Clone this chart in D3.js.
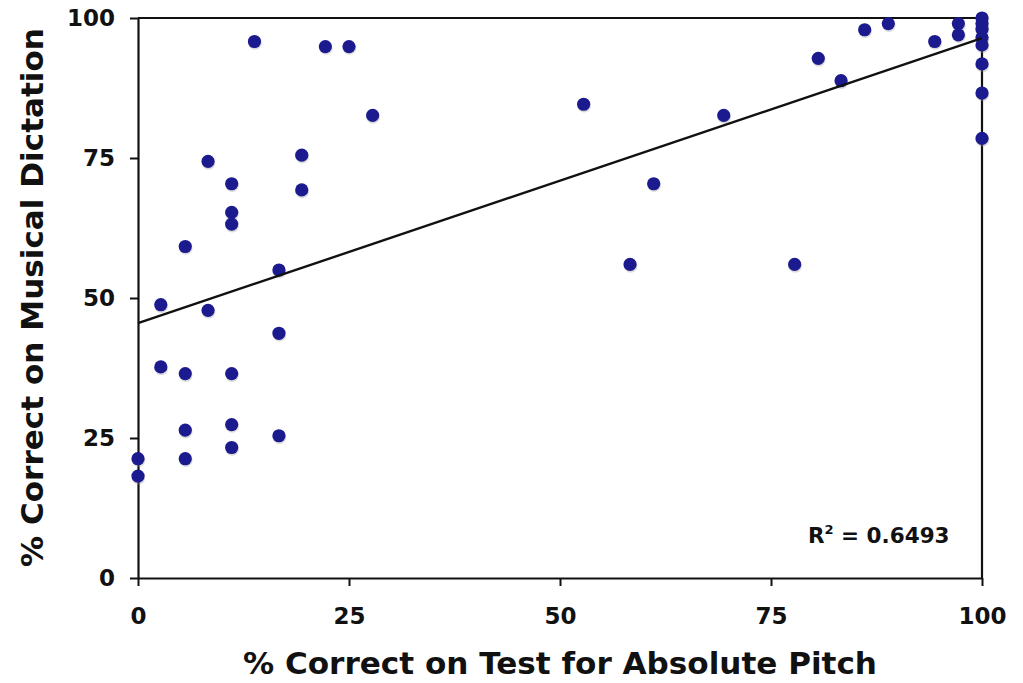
<!DOCTYPE html>
<html>
<head>
<meta charset="utf-8">
<script src="https://cdn.jsdelivr.net/npm/d3@7"></script>
<style>
  html, body { margin: 0; padding: 0; background: #fff; }
  svg { display: block; }
  text { font-family: "DejaVu Sans", Verdana, sans-serif; font-weight: bold; fill: #111; }
</style>
</head>
<body>
<svg id="chart" width="1023" height="683"></svg>
<script>
// ---- data ----
const xValues = [0, 0, 2.7, 2.7, 5.6, 5.6, 5.6, 5.6, 8.3, 8.3,
  11.1, 11.1, 11.1, 11.1, 11.1, 11.1, 13.8, 16.7, 16.7, 16.7,
  19.4, 19.4, 22.2, 25.0, 27.8, 52.8, 58.3, 61.1, 69.4, 77.8,
  80.6, 83.3, 86.1, 88.9, 94.4, 97.2, 97.2,
  100, 100, 100, 100, 100, 100, 100, 100];
const yValues = [21.3, 18.2, 48.8, 37.7, 59.2, 36.5, 26.4, 21.3, 74.4, 47.8,
  70.4, 65.3, 63.2, 36.5, 27.4, 23.3, 95.8, 55.0, 43.7, 25.4,
  75.5, 69.3, 94.9, 94.9, 82.6, 84.6, 56.0, 70.4, 82.6, 56.0,
  92.8, 88.8, 97.9, 99.0, 95.8, 99.0, 97.0,
  100, 99, 98, 96.5, 95.2, 91.8, 86.6, 78.5];
const tickValues = [0, 25, 50, 75, 100];
const trendIntercept = 45.5;
const trendSlope = 0.509;
const rSquaredLabel = "0.6493";
const xTitle = "% Correct on Test for Absolute Pitch";
const yTitle = "% Correct on Musical Dictation";

// ---- layout ----
const svg = d3.select("#chart");
const mLeft = 138, mRight = 982, mTop = 18, mBottom = 578;
const x = d3.scaleLinear().domain([0, 100]).range([mLeft, mRight]);
const y = d3.scaleLinear().domain([0, 100]).range([mBottom, mTop]);

// frame (top + right)
svg.append("path")
  .attr("d", `M${x(0)},${y(100)}H${x(100)}V${y(0)}`)
  .attr("fill", "none").attr("stroke", "#111").attr("stroke-width", 2.2);

// axes
const yAxis = d3.axisLeft(y).tickValues(tickValues).tickSize(8).tickSizeOuter(0).tickPadding(15);
const xAxis = d3.axisBottom(x).tickValues(tickValues).tickSize(8).tickSizeOuter(0).tickPadding(22);

const gy = svg.append("g").attr("transform", `translate(${mLeft},0)`).call(yAxis);
const gx = svg.append("g").attr("transform", `translate(0,${mBottom})`).call(xAxis);
[gx, gy].forEach(g => {
  g.selectAll("path.domain").attr("stroke", "#111").attr("stroke-width", 2.2);
  g.selectAll(".tick line").attr("stroke", "#111").attr("stroke-width", 2);
  g.selectAll(".tick text").attr("font-size", 23).attr("font-family", "DejaVu Sans, sans-serif")
    .attr("font-weight", "bold").attr("fill", "#111");
});

// dots (with faint shadow)
const pts = xValues.map((v, i) => ({ x: v, y: yValues[i] }));
svg.append("g").selectAll("circle").data(pts).join("circle")
  .attr("cx", d => x(d.x) + 0.5).attr("cy", d => y(d.y) + 1.5).attr("r", 6.8)
  .attr("fill", "#999").attr("opacity", 0.35);
svg.append("g").selectAll("circle").data(pts).join("circle")
  .attr("cx", d => x(d.x)).attr("cy", d => y(d.y)).attr("r", 6.6)
  .attr("fill", "#1b1a8e");

// trend line
svg.append("line")
  .attr("x1", x(0)).attr("y1", y(trendIntercept))
  .attr("x2", x(100)).attr("y2", y(trendIntercept + trendSlope * 100))
  .attr("stroke", "#111").attr("stroke-width", 2.4);

// R^2 label
const r2 = svg.append("text").attr("x", 808).attr("y", 543).attr("font-size", 21.5);
r2.append("tspan").text("R");
r2.append("tspan").text("2").attr("font-size", 13).attr("dy", -9);
r2.append("tspan").text(" = " + rSquaredLabel).attr("dy", 9);

// axis titles
svg.append("text").attr("x", (mLeft + mRight) / 2 - 0).attr("y", 674)
  .attr("text-anchor", "middle").attr("font-size", 30)
  .attr("textLength", 634).attr("lengthAdjust", "spacingAndGlyphs")
  .text(xTitle);
svg.append("text")
  .attr("transform", `translate(43,${(28 + 567) / 2}) rotate(-90)`)
  .attr("text-anchor", "middle").attr("font-size", 30)
  .attr("textLength", 539).attr("lengthAdjust", "spacingAndGlyphs")
  .text(yTitle);
</script>
</body>
</html>
